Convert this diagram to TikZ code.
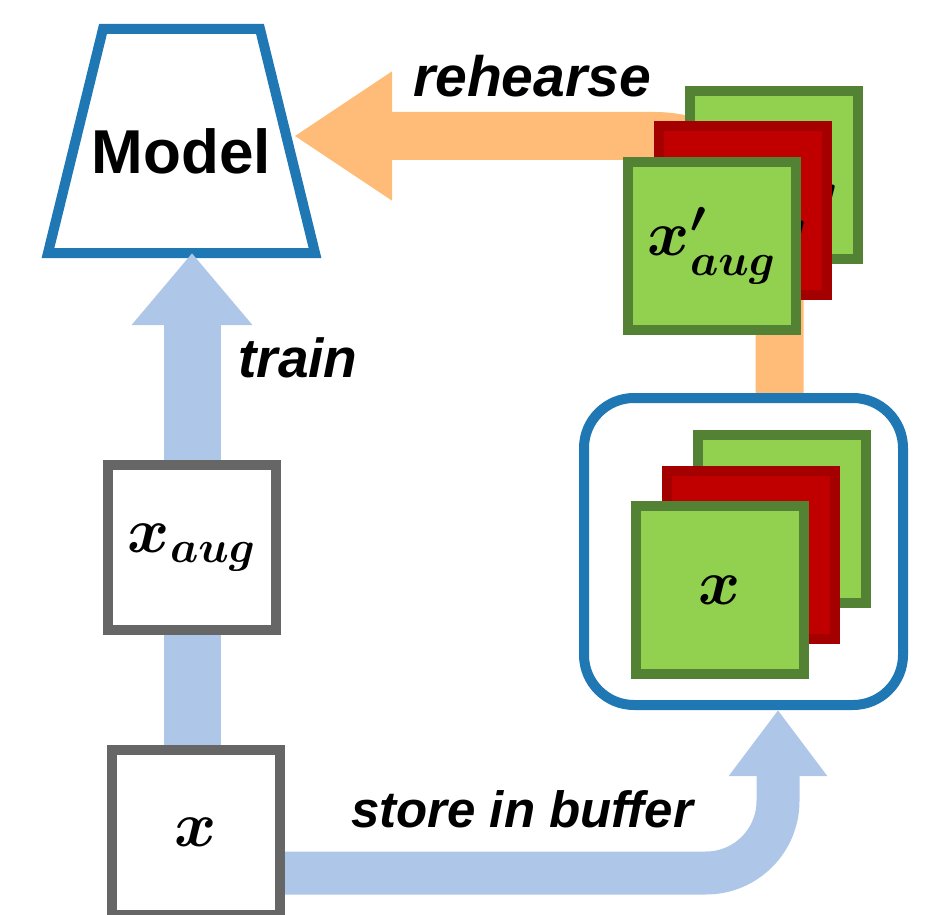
\RequirePackage{fix-cm}
\documentclass[tikz,border=0pt]{standalone}
\usepackage{amsmath}
\usepackage{fontspec}
\setmainfont{Liberation Sans}
\usetikzlibrary{arrows.meta,positioning,calc,backgrounds}
\definecolor{ModelBlue}{HTML}{1F77B4}
\definecolor{FeedBlue}{HTML}{AEC7E8}
\definecolor{ReplayOrange}{HTML}{FFBB78}
\definecolor{FrameGray}{HTML}{666666}
\definecolor{LeafGreen}{HTML}{92D050}
\definecolor{LeafEdge}{HTML}{548235}
\definecolor{BerryRed}{HTML}{C00000}
\definecolor{BerryEdge}{HTML}{A50000}

\begin{document}
\begin{tikzpicture}[
  x=0.5pt, y=-0.5pt,
  mathtxt/.style={font=\fontsize{32}{38}\selectfont\boldmath},
  frame/.style={draw=FrameGray, line width=5pt, fill=white, minimum width=84pt,
    minimum height=82.5pt, inner sep=0pt, mathtxt},
  leaf/.style={draw=LeafEdge, fill=LeafGreen, line width=5pt, minimum size=84pt,
    inner sep=0pt, mathtxt},
  berry/.style={leaf, draw=BerryEdge, fill=BerryRed},
  tag/.style={anchor=base, inner sep=0pt, font=\fontsize{#1}{#1}\selectfont\bfseries\itshape},
  feed/.style={draw=FeedBlue, line width=28.5pt, -{Triangle[length=36pt, width=58pt]}},
  stash/.style={draw=FeedBlue, line width=21.5pt, rounded corners=36pt,
    -{Triangle[length=33pt, width=47pt]}},
  replay/.style={draw=ReplayOrange, line width=24pt, rounded corners=62.5pt,
    -{Triangle[length=49pt, width=61pt]}}
]
\useasboundingbox (0,0) rectangle (938,915);

% network: text node, trapezoid drawn round it
\node[minimum width=133.5pt, minimum height=112pt, inner sep=0pt, outer sep=0pt,
  text height=32.5pt, text depth=0pt,
  font=\fontsize{31}{37}\selectfont\bfseries] (model) at (181.5,141) {Model};
\begin{scope}[on background layer]
  \draw[ModelBlue, line width=5pt, fill=white]
    (model.south west) -- (model.south east) -- ($(model.north east)+(-55,0)$)
    -- ($(model.north west)+(55,0)$) -- cycle;
\end{scope}

% input and its augmented view
\node[frame] (xaug) at (192,547.5) {$x_{aug}$};
\node[frame] (xin) at (195.5,832.5) {$x$};

% replay buffer
\node[draw=ModelBlue, line width=5pt, rounded corners=25pt, fill=white,
  minimum width=159.5pt, minimum height=153.5pt] (buffer) at (743.5,551.5) {};
\node[leaf] (bufback) at (782,519) {};
\node[berry] (bufmid) at ($(bufback)+(-31,35.5)$) {};
\node[leaf] (buffront) at ($(bufmid)+(-31,35.5)$) {$x$};

% augmented samples drawn from the buffer
\node[leaf] (repback) at (774,175) {$x'_{aug}$};
\node[berry] (repmid) at ($(repback)+(-31,35.5)$) {$x'_{aug}$};
\node[leaf] (repfront) at ($(repmid)+(-31,35.5)$) {$x'_{aug}$};

% labels
\node[tag=28.5] (lblrehearse) at (532,97) {rehearse};
\node[tag=27.5] (lbltrain) at (298,377) {train};
\node[tag=25.5] (lblstore) at (522,827) {store in buffer};

\begin{scope}[on background layer]
  \draw[feed] (xaug.center |- xin.north) -- (xaug.center |- model.south);
  \draw[stash] ($(xin.east)+(0,40.5)$) -| ($(buffer.south)+(34.5,0)$);
  \draw[replay] ($(buffer.north)+(36,0)$) |- ([xshift=-10.5pt, yshift=2.5pt]model.east);
\end{scope}
\end{tikzpicture}
\end{document}
